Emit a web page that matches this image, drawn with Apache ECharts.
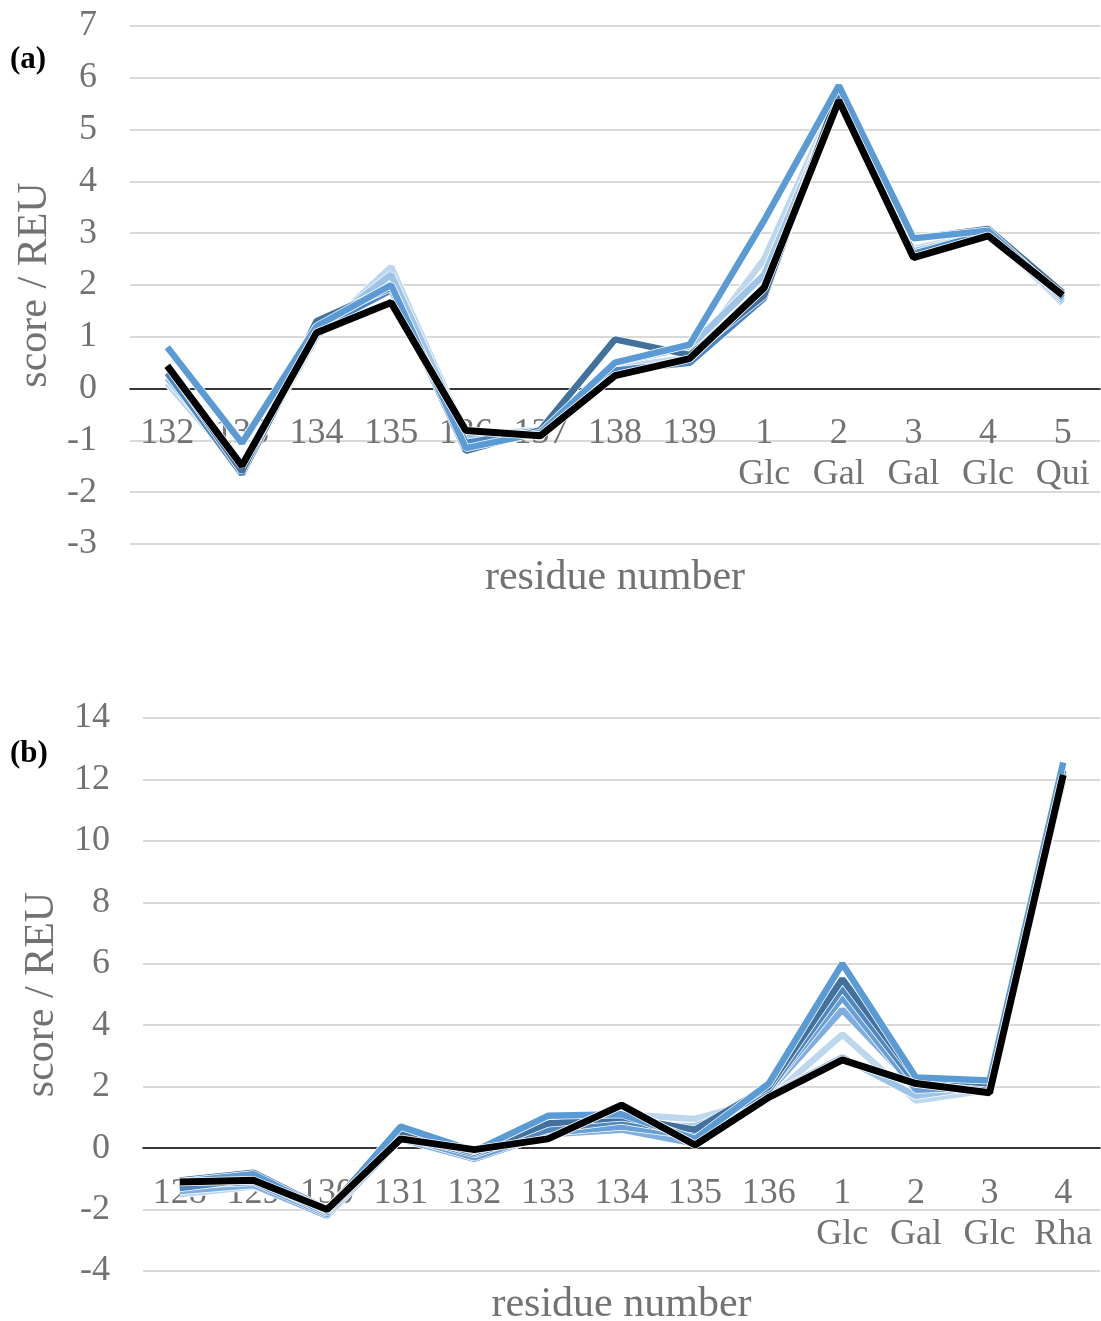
<!DOCTYPE html>
<html lang="en">
<head>
	<meta charset="UTF-8">
	<title>score / REU</title>
	<script src="https://cdn.jsdelivr.net/npm/echarts@6/dist/echarts.min.js"></script>
	<style>
		html, body { margin: 0; padding: 0; background: #fff; }
		#chart { width: 1101px; height: 1321px; }
	</style>
</head>
<body>
	<div id="chart"></div>
	<script>
		// panel (a)
		var catsA = ['132', '133', '134', '135', '136', '137', '138', '139', '1\nGlc', '2\nGal', '3\nGal', '4\nGlc', '5\nQui'];
		var a1 = [0.80, -1.05, 1.20, 2.00, -1.15, -0.85, 0.50, 0.85, 3.25, 5.85, 2.90, 3.05, 1.75];
		var a2 = [0.45, -1.60, 1.30, 1.95, -1.20, -0.80, 0.95, 0.65, 1.80, 5.75, 2.90, 3.08, 1.85];
		var a3 = [0.10, -1.55, 1.00, 2.35, -0.90, -0.80, 0.40, 0.60, 2.50, 5.70, 2.70, 3.00, 1.65];
		var a4 = [0.20, -1.50, 1.10, 2.20, -0.95, -0.85, 0.50, 0.80, 2.20, 5.65, 2.65, 3.00, 1.70];
		var a5 = [0.30, -1.65, 1.15, 1.90, -1.05, -0.80, 0.35, 0.50, 1.75, 5.80, 2.60, 3.00, 1.80];
		var aBlack = [0.44, -1.49, 1.08, 1.66, -0.81, -0.91, 0.25, 0.58, 1.95, 5.56, 2.53, 2.95, 1.80];
		var ticksA = { min: -3, max: 7, interval: 1 };

		// panel (b)
		var catsB = ['128', '129', '130', '131', '132', '133', '134', '135', '136', '1\nGlc', '2\nGal', '3\nGlc', '4\nRha'];
		var b1 = [-1.10, -0.85, -2.05, 0.70, -0.10, 1.05, 1.10, 0.30, 2.10, 6.00, 2.30, 2.20, 12.55];
		var b2 = [-1.05, -0.80, -2.00, 0.50, -0.15, 0.80, 1.00, 0.60, 2.00, 5.50, 2.30, 2.10, 12.30];
		var b3 = [-1.30, -1.00, -2.10, 0.45, -0.20, 0.60, 0.90, 0.50, 1.90, 5.20, 2.10, 2.00, 12.20];
		var b4 = [-1.20, -1.10, -2.15, 0.40, -0.30, 0.50, 0.70, 0.40, 1.90, 4.90, 1.90, 2.00, 12.00];
		var b5 = [-1.40, -1.20, -2.20, 0.30, -0.35, 0.45, 0.60, 0.15, 1.85, 4.50, 2.00, 1.95, 12.10];
		var b6 = [-1.50, -1.25, -2.05, 0.35, -0.25, 0.40, 1.10, 0.95, 1.60, 3.70, 1.55, 1.90, 11.90];
		var b7 = [-1.35, -1.15, -2.10, 0.30, -0.20, 0.50, 0.80, 0.70, 1.70, 2.95, 1.70, 2.05, 12.00];
		var bBlack = [-1.10, -1.05, -2.00, 0.30, -0.05, 0.30, 1.40, 0.10, 1.65, 2.87, 2.10, 1.80, 12.15];
		var ticksB = { min: -4, max: 14, interval: 2 };

		var grey = '#727272';
		var serif = '"Liberation Serif", "DejaVu Serif", serif';

		// labels sit on the zero line; v6 lays them out from the grid bottom, so pull them up
		function xAxisFor(idx, cats, labelMargin, gap) {
			return {
				type: 'category', gridIndex: idx, data: cats,
				axisLine: { onZero: true, lineStyle: { color: '#000', width: 1.5 } },
				axisTick: { show: false },
				axisLabel: { interval: 0, color: grey, fontFamily: serif, fontSize: 36, lineHeight: 41, margin: labelMargin },
				name: 'residue number', nameLocation: 'middle', nameGap: gap,
				nameTextStyle: { color: grey, fontFamily: serif, fontSize: 42 }
			};
		}

		function yAxisFor(idx, t, gap) {
			return {
				type: 'value', gridIndex: idx, min: t.min, max: t.max, interval: t.interval,
				axisLine: { show: false },
				axisTick: { show: false },
				splitLine: { lineStyle: { color: '#d9d9d9', width: 2 } },
				axisLabel: { color: grey, fontFamily: serif, fontSize: 36, margin: 33 },
				name: 'score / REU', nameLocation: 'middle', nameGap: gap,
				nameTextStyle: { color: grey, fontFamily: serif, fontSize: 42 }
			};
		}

		var series = [];
		// each line gets a thin white outline drawn just before it
		function addLine(idx, data, color, w) {
			series.push({ type: 'line', xAxisIndex: idx, yAxisIndex: idx, data: data, symbol: 'none', silent: true,
				lineStyle: { color: '#fff', width: w + 1.5 } });
			series.push({ type: 'line', xAxisIndex: idx, yAxisIndex: idx, data: data, symbol: 'none', silent: true,
				lineStyle: { color: color, width: w } });
		}

		addLine(0, a3, '#bdd7ee', 6.5);
		addLine(0, a4, '#9dc3e6', 6.5);
		addLine(0, a5, '#4a86c5', 6.5);
		addLine(0, a2, '#41719c', 6.5);
		addLine(0, a1, '#5b9bd5', 6.5);
		addLine(0, aBlack, '#000', 7);

		addLine(1, b6, '#bdd7ee', 6.5);
		addLine(1, b7, '#9dc3e6', 6.5);
		addLine(1, b5, '#7eaee0', 6.5);
		addLine(1, b4, '#6a9fd6', 6.5);
		addLine(1, b3, '#4f87be', 6.5);
		addLine(1, b2, '#41719c', 6.5);
		addLine(1, b1, '#5b9bd5', 6.5);
		addLine(1, bBlack, '#000', 7);

		var option = {
			backgroundColor: '#fff',
			animation: false,
			grid: [
				{ left: 130, right: 1, top: 26, height: 518, outerBoundsMode: 'none' },
				{ left: 143, right: 1, top: 718, height: 553, outerBoundsMode: 'none' }
			],
			xAxis: [xAxisFor(0, catsA, -131, 13), xAxisFor(1, catsB, -98, 13)],
			yAxis: [yAxisFor(0, ticksA, 69), yAxisFor(1, ticksB, 80)],
			graphic: [
				{ type: 'text', left: 10, top: 44, style: { text: '(a)', font: 'bold 31px ' + serif, fill: '#000' } },
				{ type: 'text', left: 10, top: 738, style: { text: '(b)', font: 'bold 31px ' + serif, fill: '#000' } }
			],
			series: series
		};

		var myChart = echarts.init(document.getElementById('chart'));
		myChart.setOption(option);
	</script>
</body>
</html>
